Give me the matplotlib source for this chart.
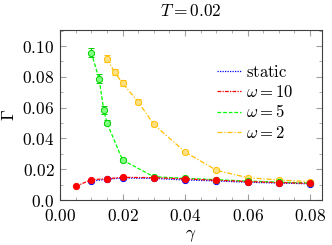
import matplotlib
matplotlib.use("Agg")
import matplotlib.pyplot as plt
from matplotlib.ticker import MultipleLocator
from matplotlib.lines import Line2D

plt.rcParams['mathtext.fontset'] = 'cm'
plt.rcParams['font.family'] = 'serif'
plt.rcParams['font.serif'] = ['DejaVu Serif']

# data
x_static = [0.01, 0.015, 0.02, 0.03, 0.04, 0.05, 0.06, 0.07, 0.08]
y_static = [0.0122, 0.0135, 0.0143, 0.0140, 0.0130, 0.0124, 0.0115, 0.0110, 0.0105]

x_w10 = [0.005, 0.01, 0.015, 0.02, 0.03, 0.04, 0.05, 0.06, 0.07, 0.08]
y_w10 = [0.0088, 0.0132, 0.0138, 0.0147, 0.0145, 0.0137, 0.0128, 0.0120, 0.0113, 0.0108]

x_w5 = [0.01, 0.0125, 0.014, 0.015, 0.02, 0.03, 0.04, 0.05, 0.06, 0.07, 0.08]
y_w5 = [0.0957, 0.0788, 0.0584, 0.0502, 0.0260, 0.0151, 0.0141, 0.0132, 0.0123, 0.0116, 0.0110]
e_w5 = [0.003, 0.003, 0.0025, 0.0015, 0.001, 0.0007, 0.0006, 0.0005, 0.0005, 0.0004, 0.0004]

x_w2 = [0.015, 0.0175, 0.02, 0.025, 0.03, 0.04, 0.05, 0.06, 0.07, 0.08]
y_w2 = [0.0918, 0.0829, 0.0758, 0.0638, 0.0491, 0.0312, 0.0193, 0.0145, 0.0130, 0.0119]
e_w2 = [0.0025, 0.002, 0.002, 0.0015, 0.0012, 0.001, 0.0008, 0.0006, 0.0005, 0.0005]

series_labels = [r'$\mathrm{static}$', r'$\omega = 10$', r'$\omega = 5$', r'$\omega = 2$']

xticks = [0.0, 0.02, 0.04, 0.06, 0.08]
xtick_labels = ['0.00', '0.02', '0.04', '0.06', '0.08']
yticks = [0.0, 0.02, 0.04, 0.06, 0.08, 0.10]
ytick_labels = ['0.0', '0.02', '0.04', '0.06', '0.08', '0.10']

fig = plt.figure(figsize=(3.32, 2.45), dpi=100)
ax = fig.add_axes([60/332, 45/245, 262/332, 170/245])

ms = 4.5
styles = [
    dict(color='#0000ff', ls=(0, (1, 1))),
    dict(color='#ff0000', ls=(0, (3, 1, 1, 1))),
    dict(color='#00ff00', ls=(0, (3, 1.5))),
    dict(color='#ffbf00', ls=(0, (4, 1.5, 1, 1.5))),
]

ax.plot(x_static, y_static, color=styles[0]['color'], ls=styles[0]['ls'], lw=0.9,
        marker='o', ms=ms, mfc='#8080ff', mec='#0000ff', mew=0.7, zorder=3)
ax.plot(x_w10, y_w10, color=styles[1]['color'], ls=styles[1]['ls'], lw=0.9,
        marker='o', ms=ms, mfc='#ff0000', mec='#ff0000', mew=0.7, zorder=4)
ax.errorbar(x_w5, y_w5, yerr=e_w5, color=styles[2]['color'], ls=styles[2]['ls'], lw=0.9,
            marker='o', ms=ms, mfc='#80ff80', mec='#00d000', mew=0.7, ecolor='#00d000',
            elinewidth=0.8, capsize=2, capthick=0.8, zorder=3)
ax.errorbar(x_w2, y_w2, yerr=e_w2, color=styles[3]['color'], ls=styles[3]['ls'], lw=0.9,
            marker='o', ms=ms, mfc='#ffe080', mec='#ffbf00', mew=0.7, ecolor='#ffbf00',
            elinewidth=0.8, capsize=2, capthick=0.8, zorder=2)

ax.set_xlim(0, 0.0838)
ax.set_ylim(0, 0.1104)
ax.set_xticks(xticks)
ax.set_xticklabels(['$' + t + '$' for t in xtick_labels])
ax.set_yticks(yticks)
ax.set_yticklabels(['$' + t + '$' for t in ytick_labels])
ax.xaxis.set_minor_locator(MultipleLocator(0.005))
ax.yaxis.set_minor_locator(MultipleLocator(0.01))
ax.tick_params(which='both', direction='in', top=True, right=True, color='#a0a0a0',
               labelsize=12.5)
ax.tick_params(axis='x', pad=6)
ax.tick_params(axis='y', pad=4)
ax.tick_params(which='major', length=4, width=0.8)
ax.tick_params(which='minor', length=2, width=0.6)
for s in ax.spines.values():
    s.set_color('#404040')
    s.set_linewidth(0.8)

ax.set_title(r'$T = 0.02$', fontsize=12.5, pad=10)
ax.set_xlabel(r'$\gamma$', fontsize=12.5, labelpad=1)
ax.set_ylabel(r'$\Gamma$', fontsize=12.5, labelpad=3)

handles = [Line2D([], [], color=st['color'], ls=st['ls'], lw=0.9) for st in styles]
leg = ax.legend(handles, series_labels, loc='upper right', bbox_to_anchor=(0.935, 0.87),
                frameon=False, fontsize=12, handlelength=1.45, handletextpad=0.3,
                labelspacing=0.2, borderpad=0.2)
fig.savefig('out.png', dpi=100)
